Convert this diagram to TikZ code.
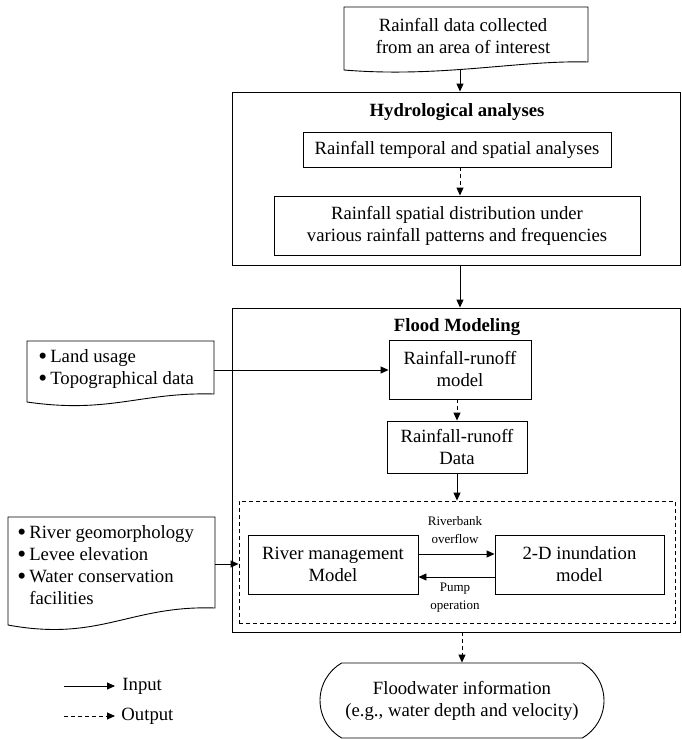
\documentclass[tikz,border=0pt]{standalone}
\usepackage{fontspec}
\setmainfont{Liberation Serif}
\usetikzlibrary{arrows.meta,shapes.misc}
\newcommand{\bigbul}{\raisebox{-0.06em}{\scalebox{1.35}{\textbullet}}}
\begin{document}
\begin{tikzpicture}[x=1pt,y=-1pt,
  line width=0.9pt,
  >={Triangle[length=8pt,width=7pt]},
  every node/.style={font=\fontsize{18.7}{22}\selectfont, inner sep=0pt},
  procbox/.style={draw, rectangle, align=center},
  container/.style={draw, rectangle},
  titletext/.style={font=\fontsize{18.7}{22}\selectfont\bfseries},
  smalltext/.style={font=\fontsize{13}{18}\selectfont, align=center},
  dashline/.style={dash pattern=on 4pt off 3pt}
]
\useasboundingbox (0,0) rectangle (682,739);

% top document
\draw (344,7) -- (588,7) -- (588,62) .. controls (520,60) and (440,78) .. (344,70) -- cycle;
\node[align=center] (rain) at (463,36) {Rainfall data collected\\from an area of interest};
\coordinate (rainb) at (460,68.5);

% hydrological analyses
\node[container, minimum width=448, minimum height=173] (hydro) at (456,178.5) {};
\node[titletext] (hydrot) at (457,112) {Hydrological analyses};
\node[procbox, minimum width=308, minimum height=35] (b1) at (457,149.5) {Rainfall temporal and spatial analyses};
\node[procbox, minimum width=366, minimum height=59] (b2) at (457,225.5) {Rainfall spatial distribution under\\various rainfall patterns and frequencies};

% flood modeling
\node[container, minimum width=448, minimum height=324] (flood) at (456,470) {};
\node[titletext] (floodt) at (457,327) {Flood Modeling};
\node[procbox, minimum width=142, minimum height=59] (rrm) at (460,369.5) {Rainfall-runoff\\model};
\node[procbox, minimum width=140, minimum height=52] (rrd) at (457,447) {Rainfall-runoff\\Data};
\node[draw, dashline, minimum width=436, minimum height=122] (dbox) at (457,562) {};
\node[procbox, minimum width=170, minimum height=59] (rm) at (333,564.5) {River management\\Model};
\node[procbox, minimum width=169, minimum height=59] (id) at (579.5,564.5) {2-D inundation\\model};
\node[smalltext] (lab1) at (455,530) {Riverbank\\overflow};
\node[smalltext] (lab2) at (455,598) {Pump\\operation};

% output oval
\node[draw, rounded rectangle, rounded rectangle arc length=120, minimum width=284, minimum height=75, align=center] (out) at (462,700.5) {Floodwater information\\(e.g., water depth and velocity)};

% land document
\draw (27,341) -- (214,341) -- (214,394) .. controls (140,392) and (110,414) .. (27,402) -- cycle;
\node[anchor=west] (land) at (38,369.5) {\begin{tabular}{@{}l@{\hspace{3pt}}l@{}}\bigbul&Land usage\\\bigbul&Topographical data\end{tabular}};
\coordinate (landr) at (214,370);

% river document
\draw (8,517) -- (215,517) -- (215,608) .. controls (130,605) and (100,642) .. (8,625) -- cycle;
\node[anchor=west] (river) at (17,567.5) {\begin{tabular}{@{}l@{\hspace{3pt}}l@{}}\bigbul&River geomorphology\\\bigbul&Levee elevation\\\bigbul&Water conservation\\&facilities\end{tabular}};
\coordinate (riverr) at (215,564);

% connectors
\draw[->] (rainb) -- (rainb |- hydro.north);
\draw[->, dashline] ([xshift=3pt]b1.south) -- ([xshift=3pt]b2.north);
\draw[->] ([xshift=4pt]hydro.south) -- ([xshift=4pt]flood.north);
\draw[->] (landr) -- (landr -| rrm.west);
\draw[->, dashline] (rrm.south -| rrd.north) -- (rrd.north);
\draw[->] (rrd.south) -- (rrd.south |- dbox.north);
\draw[->] (riverr) -- (riverr -| dbox.west);
\draw[->] ([yshift=10.5pt]rm.east) -- ([yshift=10.5pt]id.west);
\draw[->] ([yshift=-12.5pt]id.west) -- ([yshift=-12.5pt]rm.east);
\draw[->, dashline] (flood.south -| out.north) -- (out.north);

% legend
\coordinate (l1a) at (64,686);
\coordinate (l1b) at (115,686);
\coordinate (l2a) at (64,716);
\coordinate (l2b) at (115,716);
\draw[->] (l1a) -- (l1b);
\node[anchor=west] (inp) at (122,686) {Input};
\draw[->, dashline] (l2a) -- (l2b);
\node[anchor=west] (outp) at (121,716) {Output};
\end{tikzpicture}
\end{document}
